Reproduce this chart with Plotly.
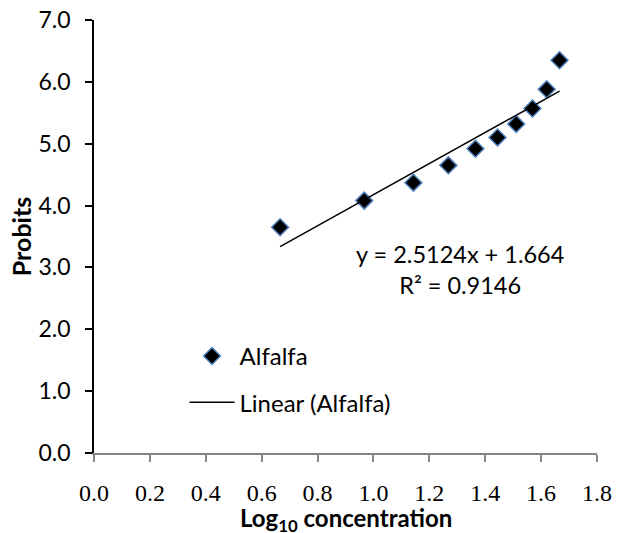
import numpy as np
import plotly.graph_objects as go

# Data
log_conc = [0.666, 0.967, 1.143, 1.268, 1.365, 1.444, 1.511, 1.569, 1.620, 1.666]
probits = [3.65, 4.08, 4.37, 4.65, 4.92, 5.10, 5.32, 5.57, 5.88, 6.35]
slope = 2.5124
intercept = 1.664
r_squared = 0.9146
series_name = "Alfalfa"
x_title = "<b>Log<sub>10</sub> concentration</b>"
y_title = "<b>Probits</b>"
x_ticks = [0.0, 0.2, 0.4, 0.6, 0.8, 1.0, 1.2, 1.4, 1.6, 1.8]
y_ticks = [0.0, 1.0, 2.0, 3.0, 4.0, 5.0, 6.0, 7.0]

trend_x = [min(log_conc), max(log_conc)]
trend_y = [slope * v + intercept for v in trend_x]

SANS = "Lato, Open Sans, sans-serif"
SERIF = "Liberation Serif, Times New Roman, serif"

fig = go.Figure()
fig.add_trace(go.Scatter(
    x=log_conc, y=probits, mode="markers", name=series_name,
    legendgroup="a",
    marker=dict(symbol="diamond", size=13, color="black",
                line=dict(color="#4F81BD", width=1.5)),
))
fig.add_trace(go.Scatter(
    x=trend_x, y=trend_y, mode="lines", name=f"Linear ({series_name})",
    legendgroup="b",
    line=dict(color="black", width=1.5),
))

fig.add_annotation(
    x=1.31, y=2.97, xref="x", yref="y", showarrow=False,
    text=f"y = {slope}x + {intercept}<br>R² = {r_squared}",
    align="center", font=dict(family=SANS, size=23.5, color="black"),
)

# x-axis title placed below the tick labels
fig.add_annotation(
    x=0.5, y=0, xref="paper", yref="paper", showarrow=False,
    xanchor="center", yanchor="middle", yshift=-66, borderpad=0,
    text=x_title, font=dict(family=SANS, size=24, color="black"),
)

fig.update_layout(
    width=629, height=533,
    margin=dict(l=94, r=32, t=20, b=80),
    paper_bgcolor="white", plot_bgcolor="white",
    showlegend=True,
    legend=dict(x=0.18, y=0.275, xanchor="left", yanchor="top",
                font=dict(family=SANS, size=24, color="black"),
                bgcolor="rgba(0,0,0,0)", tracegroupgap=12, traceorder="grouped",
                itemwidth=45),
    xaxis=dict(
        range=[0, 1.8], tickvals=x_ticks, ticktext=[f"{v:.1f}" for v in x_ticks],
        automargin=False,
        showgrid=False, zeroline=False, showline=True, linecolor="#868686", linewidth=1.5,
        ticks="outside", ticklen=7, tickcolor="#868686", tickwidth=1.5,
        ticklabelstandoff=10,
        tickfont=dict(family=SERIF, size=24, color="black"),
    ),
    yaxis=dict(
        range=[0, 7], tickvals=y_ticks, ticktext=[f"{v:.1f}" for v in y_ticks],
        automargin=False,
        showgrid=False, zeroline=False, showline=True, linecolor="black", linewidth=1.5,
        ticks="outside", ticklen=7, tickcolor="black", tickwidth=1.5,
        ticklabelstandoff=10,
        tickfont=dict(family=SANS, size=23, color="black"),
        title=dict(text=y_title,
                   font=dict(family=SANS, size=25, color="black"),
                   standoff=0),
    ),
)

fig.write_html(
    "out.html",
    config={"displayModeBar": False},
    post_script="document.body.style.margin='0';document.body.style.overflow='hidden';",
)
